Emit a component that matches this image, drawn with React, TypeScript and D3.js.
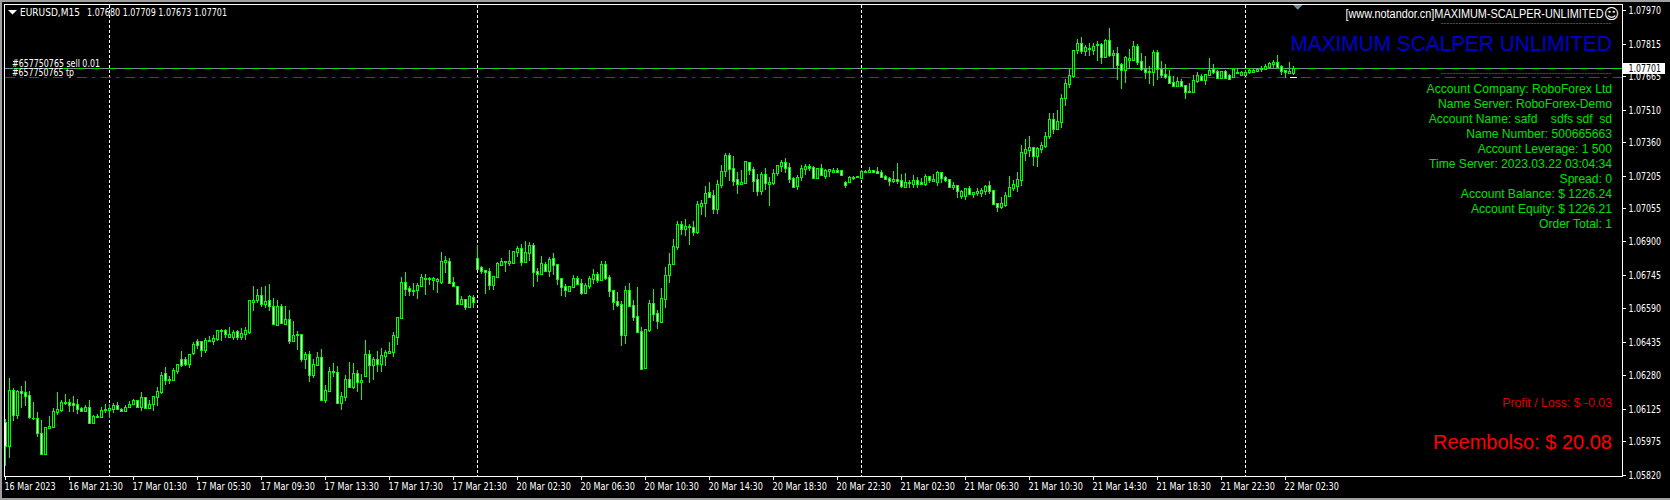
import React from "react";
import * as d3 from "d3";

// Prices are stored as points (1e-5) above 1.05000; rows are [open, high, low, close].
const POINT = 0.00001;
const PRICE_BASE = 1.05;

const sessionThu = [
[1065,1078,860,954],[954,1267,897,1212],[1212,1220,1068,1096],[1096,1212,1078,1209],[1207,1230,1129,1200],[1201,1253,1138,1186],[1187,1207,1078,1088],[1081,1156,1073,1085],[1085,1109,994,1014],[1014,1073,911,917],
[916,1039,911,1039],[1038,1092,1031,1044],[1042,1129,1038,1113],[1112,1203,1096,1124],[1121,1166,1110,1155],[1159,1193,1142,1152],[1159,1173,1110,1144],[1150,1183,1110,1144],[1146,1169,1101,1125],[1127,1132,1115,1116],
[1115,1141,1110,1136],[1136,1166,1061,1061],[1061,1096,1061,1090],[1088,1101,1084,1092],[1088,1133,1087,1122],[1121,1146,1105,1124],[1122,1146,1082,1129],[1125,1152,1105,1141],[1141,1156,1118,1125],[1125,1130,1110,1115],
[1116,1142,1115,1136],[1135,1161,1130,1149],[1149,1173,1147,1166],[1164,1166,1130,1135],[1133,1203,1115,1178],[1178,1181,1125,1130],[1130,1166,1125,1149],[1147,1183,1115,1183],[1181,1226,1138,1210],[1204,1295,1193,1284],
[1289,1318,1235,1260],[1258,1275,1240,1263],[1260,1314,1255,1303],[1301,1332,1286,1331],[1354,1392,1320,1328],[1354,1363,1324,1332],[1332,1381,1314,1381],[1383,1434,1374,1423],[1437,1448,1403,1422],[1437,1437,1365,1398],
[1398,1452,1383,1446],[1439,1462,1434,1446],[1440,1466,1420,1451],[1448,1492,1439,1492],[1485,1496,1439,1489],[1488,1494,1452,1472],[1459,1503,1452,1472],[1460,1489,1443,1483],[1485,1492,1446,1457],[1459,1499,1443,1474],
[1472,1503,1445,1488],[1482,1627,1471,1627],[1620,1693,1577,1630],[1630,1679,1617,1650],[1650,1687,1596,1611],[1610,1693,1590,1625],[1627,1702,1579,1602],[1602,1637,1513,1519],[1514,1627,1513,1599],[1599,1610,1519,1523],
[1520,1600,1517,1539],[1539,1582,1425,1440],[1440,1531,1435,1469],[1466,1485,1397,1471],
];
const sessionFri = [
[1470,1470,1342,1358],[1358,1388,1310,1378],[1378,1393,1250,1282],[1282,1356,1270,1331],[1328,1388,1328,1364],[1364,1401,1168,1168],[1168,1236,1152,1211],[1208,1319,1203,1299],[1296,1337,1273,1301],[1296,1324,1154,1154],
[1154,1203,1120,1185],[1182,1282,1162,1263],[1263,1342,1223,1226],[1226,1336,1217,1291],[1291,1305,1203,1251],[1251,1287,1166,1257],[1279,1444,1279,1378],[1378,1398,1245,1330],[1330,1365,1259,1354],[1354,1393,1296,1333],
[1334,1407,1296,1373],[1371,1398,1324,1387],[1384,1435,1379,1393],[1390,1481,1365,1465],[1459,1549,1421,1549],[1547,1735,1547,1711],[1711,1758,1647,1680],[1684,1694,1647,1672],[1672,1706,1647,1675],[1674,1706,1634,1698],
[1695,1749,1689,1734],[1726,1748,1652,1731],[1725,1737,1698,1731],[1723,1737,1674,1729],[1718,1731,1661,1725],[1712,1851,1703,1808],[1806,1832,1752,1814],[1808,1823,1703,1708],[1711,1735,1689,1695],[1692,1692,1606,1610],
[1610,1647,1606,1634],[1632,1632,1583,1597],[1597,1652,1592,1646],[1641,1651,1592,1620],
];
const sessionMon = [
[1822,1883,1768,1774],[1780,1785,1749,1765],[1766,1766,1657,1760],[1762,1777,1675,1698],[1698,1738,1675,1738],[1735,1805,1731,1800],[1791,1823,1786,1808],[1805,1809,1758,1809],[1800,1860,1786,1809],[1800,1854,1795,1854],
[1853,1879,1828,1869],[1868,1888,1786,1806],[1805,1902,1799,1851],[1848,1897,1809,1882],[1882,1893,1689,1760],[1763,1777,1712,1751],[1751,1832,1748,1799],[1795,1805,1757,1763],[1763,1828,1735,1817],[1822,1846,1745,1791],
[1794,1794,1698,1726],[1729,1729,1647,1691],[1694,1701,1643,1677],[1671,1692,1666,1692],[1689,1743,1684,1729],[1729,1740,1698,1703],[1706,1725,1652,1661],[1661,1706,1657,1698],[1695,1740,1680,1729],[1726,1771,1703,1748],
[1748,1757,1708,1723],
[1723,1809,1721,1794],[1794,1809,1721,1732],[1735,1744,1642,1670],[1673,1675,1582,1621],[1622,1664,1596,1605],[1610,1624,1416,1467],[1467,1693,1425,1673],[1673,1707,1596,1601],[1604,1629,1531,1550],[1553,1689,1476,1481],
[1485,1504,1309,1311],[1316,1493,1316,1493],[1490,1629,1481,1615],[1615,1679,1531,1565],[1568,1582,1494,1531],[1528,1684,1527,1636],[1633,1781,1592,1744],[1743,1846,1707,1794],[1795,1911,1795,1878],[1874,1994,1860,1979],
[1980,1994,1929,1957],[1957,2003,1925,1971],[1966,1980,1883,1971],[1969,1994,1925,1945],[1945,2087,1934,2073],[2063,2091,2022,2080],[2077,2156,2013,2122],[2127,2174,2100,2105],[2114,2137,2026,2050],[2050,2184,2026,2164],
[2161,2253,2147,2228],[2224,2309,2198,2298],[2298,2309,2179,2236],[2238,2295,2156,2179],[2187,2221,2119,2165],[2165,2230,2165,2174],[2170,2270,2170,2270],[2267,2267,2207,2230],[2233,2244,2128,2179],[2187,2211,2110,2133],
[2133,2221,2114,2211],[2211,2239,2137,2170],[2165,2198,2063,2174],[2170,2235,2161,2215],[2215,2255,2202,2252],[2248,2276,2221,2267],[2267,2285,2216,2239],[2244,2262,2170,2188],[2193,2198,2151,2154],[2156,2207,2137,2198],
[2198,2253,2179,2239],[2235,2258,2207,2248],[2248,2258,2225,2239],[2244,2248,2188,2193],[2193,2239,2188,2239],[2239,2258,2202,2207],[2202,2235,2188,2230],[2227,2235,2198,2235],[2221,2239,2216,2230],[2230,2239,2216,2221],
[2230,2230,2207,2207],[2174,2179,2147,2161],[2174,2202,2174,2198],[2193,2202,2184,2196],[2199,2205,2199,2205],
];
const sessionTue = [
[2193,2230,2193,2225],[2222,2230,2216,2225],[2222,2244,2221,2230],[2230,2230,2216,2222],[2225,2244,2216,2216],[2221,2230,2193,2198],[2202,2207,2184,2188],[2193,2198,2156,2179],[2179,2225,2170,2188],[2188,2262,2165,2179],
[2182,2212,2148,2158],[2153,2216,2148,2173],[2170,2184,2147,2175],[2167,2207,2147,2182],[2182,2198,2147,2165],[2173,2193,2161,2165],[2167,2212,2156,2201],[2201,2202,2170,2185],[2181,2212,2175,2187],[2175,2225,2156,2219],
[2219,2221,2170,2195],[2196,2202,2175,2184],[2187,2189,2151,2151],[2153,2175,2138,2161],[2159,2161,2101,2133],[2110,2138,2096,2135],[2110,2145,2091,2145],[2145,2156,2114,2119],[2121,2128,2101,2128],[2124,2147,2110,2133],
[2124,2147,2105,2138],[2133,2161,2114,2156],[2159,2179,2119,2133],[2136,2138,2068,2073],[2076,2077,2036,2059],[2059,2105,2050,2077],[2068,2128,2059,2113],[2110,2202,2110,2150],[2147,2184,2133,2165],[2156,2221,2128,2187],
[2184,2346,2156,2313],[2309,2374,2272,2326],[2323,2387,2290,2337],[2335,2337,2249,2295],[2295,2337,2244,2332],[2327,2360,2309,2344],[2341,2406,2332,2390],[2387,2494,2374,2466],[2466,2494,2397,2420],[2420,2508,2420,2457],
[2454,2582,2424,2566],[2563,2651,2526,2631],[2628,2697,2609,2670],[2665,2788,2656,2788],[2784,2836,2767,2816],[2816,2844,2767,2781],[2781,2808,2757,2798],[2791,2818,2757,2794],[2788,2818,2762,2804],[2807,2827,2734,2813],
[2813,2818,2720,2754],[2754,2836,2753,2831],[2831,2887,2753,2762],[2762,2785,2702,2771],[2771,2799,2646,2716],[2720,2725,2605,2693],[2693,2757,2633,2753],[2740,2790,2697,2751],[2739,2827,2734,2804],[2804,2813,2716,2730],
[2734,2771,2688,2697],[2700,2757,2651,2685],[2685,2711,2628,2690],[2683,2785,2619,2776],[2776,2785,2646,2697],[2697,2734,2656,2670],[2674,2720,2651,2660],[2665,2693,2628,2633],[2637,2665,2619,2619],[2619,2660,2619,2642],
[2642,2651,2614,2617],[2623,2623,2559,2591],[2591,2633,2586,2596],[2591,2670,2586,2645],[2642,2683,2633,2670],[2665,2674,2642,2646],[2645,2674,2623,2673],[2670,2748,2665,2693],[2697,2720,2674,2683],[2688,2693,2651,2656],
[2656,2688,2651,2688],[2688,2693,2651,2656],[2670,2674,2646,2651],[2660,2697,2656,2697],[2679,2697,2679,2683],[2670,2688,2665,2683],[2670,2693,2665,2683],[2683,2697,2674,2693],[2685,2697,2679,2693],[2688,2702,2683,2700],
[2697,2711,2683,2702],[2697,2720,2697,2711],[2707,2730,2707,2725],[2720,2739,2702,2730],[2730,2762,2707,2707],[2711,2716,2670,2688],[2693,2693,2656,2683],[2679,2730,2679,2688],[2679,2711,2670,2702],
];

const candles = [...sessionThu, ...sessionFri, ...sessionMon, ...sessionTue];

const priceTicks = ["1.07970","1.07815","1.07665","1.07510","1.07360","1.07205","1.07055","1.06900","1.06745","1.06590","1.06435","1.06280","1.06125","1.05975","1.05820"];
const timeLabels = ["16 Mar 2023","16 Mar 21:30","17 Mar 01:30","17 Mar 05:30","17 Mar 09:30","17 Mar 13:30","17 Mar 17:30","17 Mar 21:30","20 Mar 02:30","20 Mar 06:30","20 Mar 10:30","20 Mar 14:30","20 Mar 18:30","20 Mar 22:30","21 Mar 02:30","21 Mar 06:30","21 Mar 10:30","21 Mar 14:30","21 Mar 18:30","21 Mar 22:30","22 Mar 02:30"];
const separatorBars = [26, 118, 214, 310];
const BID = 1.07701;
const infoLines = ["Account Company: RoboForex Ltd","Name Server: RoboForex-Demo","Account Name: safd    sdfs sdf  sd","Name Number: 500665663","Account Leverage: 1 500","Time Server: 2023.03.22 03:04:34","Spread: 0","Account Balance: $ 1226.24","Account Equity: $ 1226.21","Order Total: 1"];

const FONT_UI = "'DejaVu Sans',sans-serif";
const FONT_ARIAL = "'Liberation Sans',Arial,sans-serif";

const x = d3.scaleLinear().domain([0, 16]).range([5, 69]);
const y = d3.scaleLinear().domain([1.0797, 1.0582]).range([10.2, 474.8]);
const yp = (pts: number) => y(PRICE_BASE + pts * POINT);
const line = d3.line();

function UiText({ tx, ty, len, fill = "#fff", size = 10.5, children }: any) {
  return (
    <text x={tx} y={ty} fill={fill} fontFamily={FONT_UI} fontSize={size} textLength={len} lengthAdjust="spacingAndGlyphs">
      {children}
    </text>
  );
}

function RightText({ ty, sx = 1, size, fill, children }: any) {
  return (
    <g transform={`translate(1612,${ty}) scale(${sx},1)`}>
      <text x={0} y={0} textAnchor="end" fill={fill} fontFamily={FONT_ARIAL} fontSize={size} style={{ whiteSpace: "pre" }}>
        {children}
      </text>
    </g>
  );
}

export default function App() {
  return (
    <svg width={1670} height={500} style={{ position: "absolute", left: 0, top: 0, background: "#000", display: "block" }} shapeRendering="crispEdges">
      <rect x={0} y={0} width={1670} height={500} fill="#000" />
      {/* window chrome */}
      <rect x={0} y={0} width={1670} height={2} fill="#a0a0a0" />
      <rect x={0} y={0} width={2} height={500} fill="#a0a0a0" />
      <rect x={0} y={498} width={1670} height={2} fill="#a0a0a0" />
      {/* separators */}
      {separatorBars.map((b) => (
        <line key={b} x1={x(b) + 0.5} x2={x(b) + 0.5} y1={5} y2={477} stroke="#fff" strokeDasharray="3 2" />
      ))}
      {/* levels */}
      <line x1={5} x2={1622} y1={68.5} y2={68.5} stroke="#00e000" />
      <line x1={5} x2={1622} y1={68.5} y2={68.5} stroke="#8090a0" strokeDasharray="8 8" />
      <line x1={5} x2={1622} y1={77.5} y2={77.5} stroke="#e80000" strokeDasharray="10 5 3 6" />
      {/* candles */}
      {candles.map(([o, h, l, c], i) => {
        const cx = Math.round(x(i));
        const top = Math.round(yp(Math.max(o, c)));
        const bot = Math.round(yp(Math.min(o, c)));
        return (
          <g key={i}>
            <path d={line([[cx + 0.5, yp(h)], [cx + 0.5, yp(l)]]) ?? ""} stroke="#00ff00" />
            <rect x={cx - 1} y={top} width={3} height={Math.max(bot - top + 1, 1)} fill="#00ff00" />
            {bot - top >= 2 && <rect x={cx} y={top + 1} width={1} height={bot - top - 1} fill={c >= o ? "#000" : "#fff"} />}
          </g>
        );
      })}
      <rect x={1290} y={77} width={7} height={1} fill="#fff" />
      {/* frame */}
      <rect x={4.5} y={4.5} width={1618} height={472} fill="none" stroke="#fff" />
      {/* right axis */}
      {priceTicks.map((t) => (
        <g key={t}>
          <line x1={1623} x2={1626} y1={Math.round(y(+t)) + 0.5} y2={Math.round(y(+t)) + 0.5} stroke="#fff" />
          <UiText tx={1628.5} ty={y(+t) + 4} len={32.5} size={9.8}>{t}</UiText>
        </g>
      ))}
      <rect x={1623} y={63} width={42} height={11} fill="#fff" />
      <UiText tx={1628.5} ty={y(BID) + 4} len={32.5} size={9.8} fill="#000">{BID.toFixed(5)}</UiText>
      {/* bottom axis */}
      {timeLabels.map((t, i) => (
        <g key={t}>
          <line x1={5.5 + i * 64} x2={5.5 + i * 64} y1={477} y2={480} stroke="#fff" />
          <UiText tx={4.5 + i * 64} ty={490} len={i === 0 ? 51 : 54.5}>{t}</UiText>
        </g>
      ))}
      {/* header */}
      <path d="M8 10h9l-4.5 4.5z" fill="#fff" shapeRendering="auto" />
      <UiText tx={20} ty={16} len={60}>EURUSD,M15</UiText>
      <UiText tx={87} ty={16} len={140}>1.07680 1.07709 1.07673 1.07701</UiText>
      <path d="M1293 5h9.5l-4.75 4.75z" fill="#778899" shapeRendering="auto" />
      <UiText tx={12} ty={66.5} len={88}>#657750765 sell 0.01</UiText>
      <UiText tx={12} ty={76} len={62}>#657750765 tp</UiText>
      {/* panel */}
      <text x={1603.5} y={18} textAnchor="end" fill="#fff" fontFamily={FONT_ARIAL} fontSize={12} textLength={258} lengthAdjust="spacingAndGlyphs">[www.notandor.cn]MAXIMUM-SCALPER-UNLIMITED</text>
      <text x={1611.5} y={19} textAnchor="middle" fill="#fff" fontFamily="'DejaVu Sans'" fontSize={15}>☺</text>
      <line x1={1441} x2={1612} y1={23.5} y2={23.5} stroke="#e00000" strokeDasharray="2 1" />
      <line x1={1441} x2={1612} y1={73.5} y2={73.5} stroke="#e00000" strokeDasharray="2 1" />
      <RightText ty={51} sx={0.947} size={22} fill="#0000cd">MAXIMUM SCALPER UNLIMITED</RightText>
      {infoLines.map((t, i) => (
        <RightText key={i} ty={93 + i * 15} sx={0.93} size={13} fill="#00e000">{t}</RightText>
      ))}
      <RightText ty={407} sx={0.945} size={13} fill="#dd0000">Profit / Loss: $ -0.03</RightText>
      <RightText ty={449} size={20} fill="#ff0000">Reembolso: $ 20.08</RightText>
    </svg>
  );
}
